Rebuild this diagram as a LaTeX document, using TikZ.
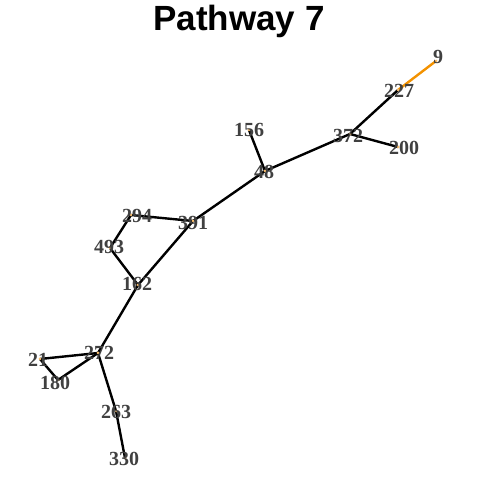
\documentclass[tikz,border=0pt]{standalone}
\usepackage{fontspec}
\setmainfont{Liberation Serif}
\newfontfamily\titlefont{Liberation Sans}
\definecolor{edgeorange}{RGB}{243,146,0}
\definecolor{labelgray}{RGB}{64,64,64}
\definecolor{dotorange}{RGB}{250,190,110}
\begin{document}
\begin{tikzpicture}[x=1pt,y=1pt,
  edge/.style={line width=2.4pt,black},
  hot/.style={line width=2.4pt,edgeorange},
  lbl/.style={font=\fontsize{20}{20}\selectfont\bfseries,text=labelgray,inner sep=0pt,anchor=center},
  dot/.style={circle,fill=dotorange,inner sep=0pt,minimum size=3pt}]
\useasboundingbox (0,0) rectangle (480,480);
\node[font=\titlefont\fontsize{35}{35}\selectfont\bfseries,anchor=base] (title) at (239,449) {Pathway 7};
% node positions (dots)
\coordinate (n9) at (436,419);
\coordinate (n227) at (398,390);
\coordinate (n372a) at (350,346);
\coordinate (n200) at (398,333);
\coordinate (n156) at (249,350);
\coordinate (n48) at (265,309);
\coordinate (n391) at (193,259);
\coordinate (n294) at (131,265);
\coordinate (n493) at (110,232);
\coordinate (n162) at (138,195);
\coordinate (n272) at (98,127);
\coordinate (n21) at (40,121);
\coordinate (n180) at (58,100);
\coordinate (n263) at (116,69);
\coordinate (n330) at (125,22);
% edges
\draw[hot] (n9) -- (n227);
\draw[edge] (n227) -- (n372a);
\draw[edge] (n372a) -- (n200);
\draw[edge] (n372a) -- (n48);
\draw[edge] (n48) -- (n156);
\draw[edge] (n48) -- (n391);
\draw[edge] (n391) -- (n294);
\draw[edge] (n294) -- (n493);
\draw[edge] (n493) -- (n162);
\draw[edge] (n162) -- (n391);
\draw[edge] (n162) -- (n272);
\draw[edge] (n272) -- (n21);
\draw[edge] (n21) -- (n180);
\draw[edge] (n180) -- (n272);
\draw[edge] (n272) -- (n263);
\draw[edge] (n263) -- (n330);
% dots
\foreach \n in {n9,n227,n372a,n200,n156,n48,n391,n294,n493,n162,n272,n21,n180,n263,n330}
  \node[dot] at (\n) {};
% labels
\node[lbl] (l9) at (438,423) {9};
\node[lbl] (l227) at (399,389) {227};
\node[lbl] (l372a) at (348,344) {372};
\node[lbl] (l200) at (404,332) {200};
\node[lbl] (l156) at (249,350) {156};
\node[lbl] (l48) at (264,308) {48};
\node[lbl] (l391) at (193,257) {391};
\node[lbl] (l294) at (137,264) {294};
\node[lbl] (l493) at (109,233) {493};
\node[lbl] (l162) at (137,196) {162};
\node[lbl] (l272) at (99,127) {272};
\node[lbl] (l21) at (38,120) {21};
\node[lbl] (l180) at (55,97) {180};
\node[lbl] (l263) at (116,68) {263};
\node[lbl] (l330) at (124,21) {330};
\end{tikzpicture}
\end{document}
